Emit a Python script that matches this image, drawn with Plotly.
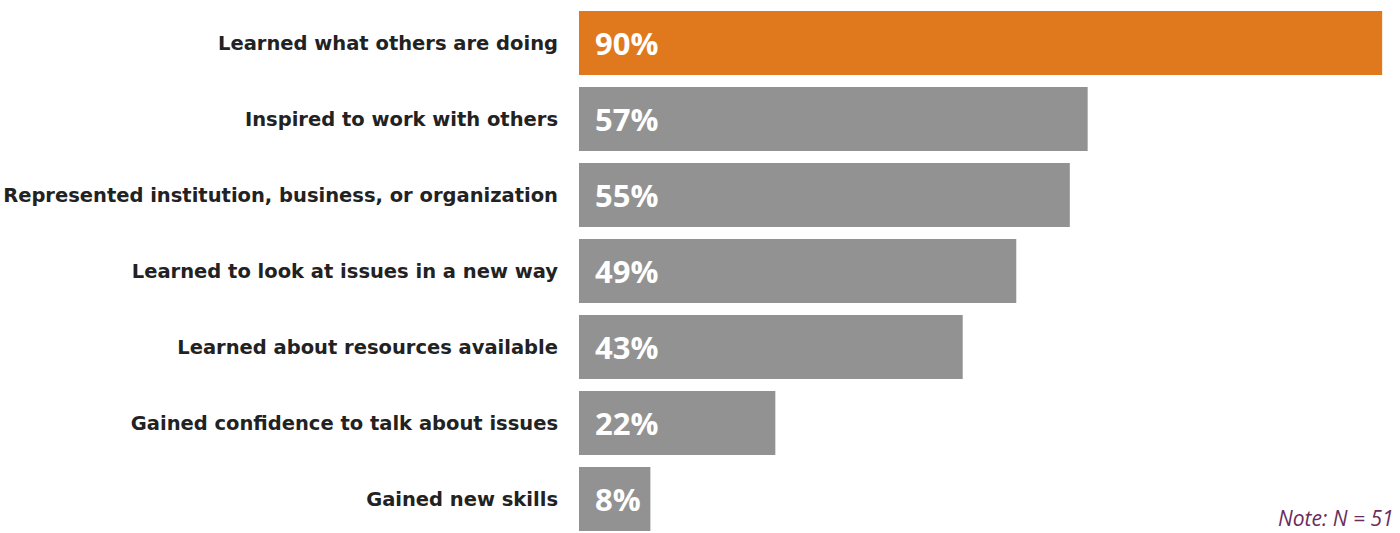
import plotly.graph_objects as go

categories = [
    "Learned what others are doing",
    "Inspired to work with others",
    "Represented institution, business, or organization",
    "Learned to look at issues in a new way",
    "Learned about resources available",
    "Gained confidence to talk about issues",
    "Gained new skills",
]
values = [90, 57, 55, 49, 43, 22, 8]
colors = ["#E0781D"] + ["#929292"] * 6
note_text = "Note: N = 51"

ypos = list(range(len(categories)))

fig = go.Figure()
fig.add_trace(go.Bar(
    x=values, y=ypos, orientation="h",
    marker=dict(color=colors, line=dict(width=0)),
    width=0.842, hoverinfo="skip",
))

for i, v in enumerate(values):
    fig.add_annotation(
        x=0, y=i, xref="x", yref="y", text=f"<b>{v}%</b>",
        showarrow=False, xanchor="left", yanchor="middle", xshift=14,
        font=dict(family="Open Sans", size=31, color="white"),
    )

fig.add_annotation(
    x=1, y=0, xref="paper", yref="paper", text=f"<i>{note_text}</i>",
    showarrow=False, xanchor="right", yanchor="bottom", xshift=-4, yshift=-1,
    font=dict(family="Open Sans", size=21, color="#6B2D5E"),
)

fig.update_layout(
    width=1400, height=533,
    margin=dict(l=579, r=0, t=0, b=0),
    paper_bgcolor="white", plot_bgcolor="white",
    showlegend=False,
    xaxis=dict(range=[0, 92.0], visible=False, fixedrange=True),
    yaxis=dict(
        range=[6.447, -0.566], tickmode="array", tickvals=ypos,
        ticktext=[f"<b>{c}</b>" for c in categories],
        tickfont=dict(family="DejaVu Sans", size=19.5, color="#222222"),
        showgrid=False, zeroline=False, showline=False, ticks="",
        ticklabelstandoff=20, fixedrange=True,
    ),
)

fig.write_html(
    "out.html",
    config={"displayModeBar": False},
    post_script="document.body.style.margin='0px';document.body.style.overflow='hidden';",
)
